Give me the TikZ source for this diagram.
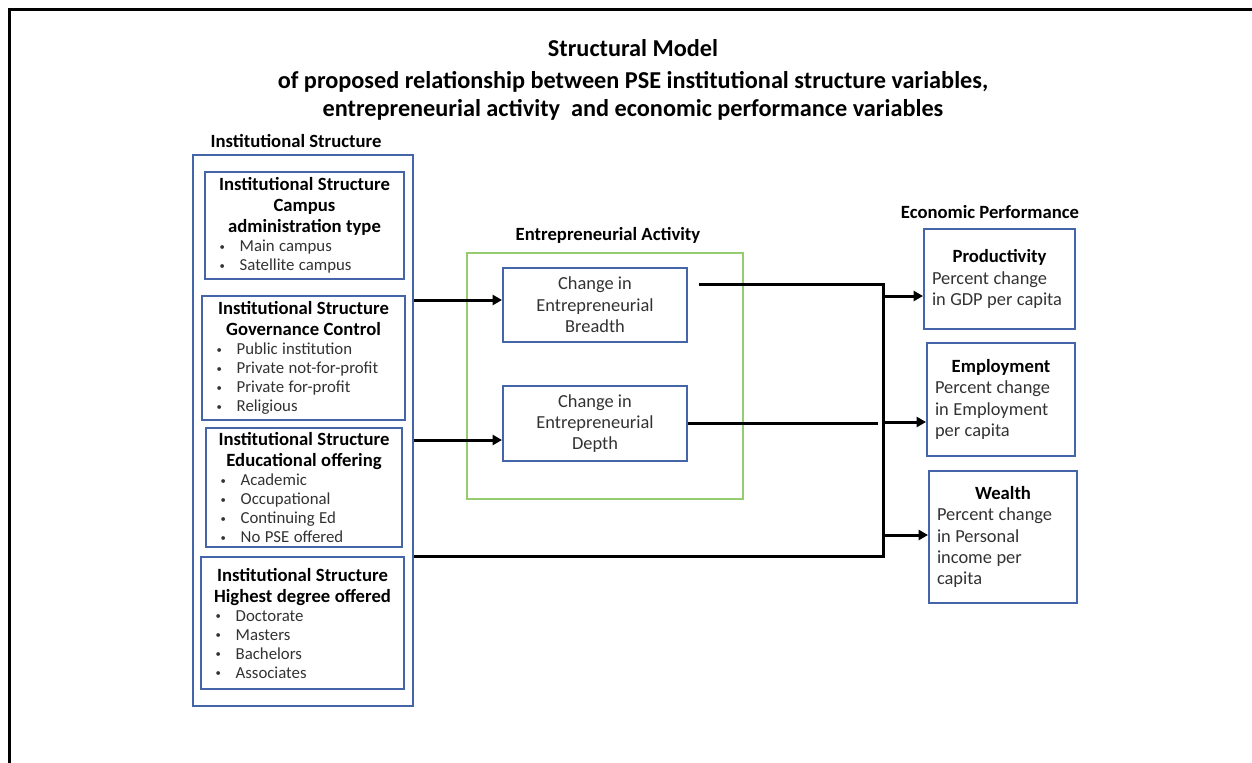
\documentclass[tikz,border=0pt]{standalone}
\usepackage{fontspec}
\setmainfont{Carlito}
\usetikzlibrary{arrows.meta}

\definecolor{boxblue}{RGB}{68,102,168}
\definecolor{actgreen}{RGB}{150,204,112}
\definecolor{txtgray}{RGB}{50,50,50}

\newcommand{\titlefont}{\fontsize{18.2}{21}\selectfont\bfseries}
\newcommand{\headfont}{\fontsize{14}{15.75}\selectfont\bfseries}
\newcommand{\listfont}{\fontsize{12.6}{14.25}\selectfont\mdseries\color{txtgray}}
\newcommand{\bodyfont}{\fontsize{13.8}{16}\selectfont\mdseries\color{txtgray}}
\newcommand{\bitem}{\hspace*{7pt}\makebox[15pt][l]{\raisebox{1pt}{\fontsize{8}{8}\selectfont\textbullet}}}

\begin{document}
\begin{tikzpicture}[x=0.75pt, y=-0.75pt,
    boxsize/.style 2 args={minimum width=#1*0.75pt, minimum height=#2*0.75pt},
    instbox/.style={draw=boxblue, line width=1.5pt, inner xsep=4pt, inner ysep=0pt},
    outbox/.style={draw=boxblue, line width=1.5pt, inner xsep=6pt, inner ysep=0pt},
    actbox/.style={draw=boxblue, line width=1.5pt, align=center, font=\bodyfont},
    grplabel/.style={font=\headfont},
    flowline/.style={line width=2.25pt, line join=miter},
    flowarrow/.style={line width=2.25pt, -{Triangle[length=7pt,width=7.5pt]}}]
    \useasboundingbox (0,0) rectangle (1252,763);

    % Page frame
    \draw[line width=2.25pt] (9,763) -- (9,10) -- (1252,10);

    % Title
    \node[align=center, font=\titlefont] (title) at (633,80)
        {Structural Model\\[3pt]
         of proposed relationship between PSE institutional\ structure variables,\\
         entrepreneurial activity\ \ and economic performance variables};

    % Institutional structure group
    \node[grplabel] (instlabel) at (296,141) {Institutional Structure};
    \node[draw=boxblue, line width=1.2pt, boxsize={220}{551}] (inst) at (303,430.5) {};

    \node[instbox, boxsize={199}{107}, text width=141.25pt] (campus) at (304.5,225.5)
        {\centering\headfont Institutional Structure\\ Campus\\ administration type\par
         \raggedright\listfont\bitem Main campus\\ \bitem Satellite campus\par};
    \node[instbox, boxsize={203}{124}, text width=144.25pt] (govern) at (303.5,358)
        {\centering\headfont Institutional Structure\\ Governance Control\par
         \raggedright\listfont\bitem Public institution\\ \bitem Private not-for-profit\\
         \bitem Private for-profit\\ \bitem Religious\par};
    \node[instbox, boxsize={196}{119}, text width=139pt] (educ) at (304,487.5)
        {\centering\headfont Institutional Structure\\ Educational offering\par
         \raggedright\listfont\bitem Academic\\ \bitem Occupational\\
         \bitem Continuing Ed\\ \bitem No PSE offered\par};
    \node[instbox, boxsize={203}{132}, text width=144.25pt] (highest) at (302.5,623)
        {\centering\headfont Institutional Structure\\ Highest degree offered\par
         \raggedright\listfont\bitem Doctorate\\ \bitem Masters\\
         \bitem Bachelors\\ \bitem Associates\par};

    % Entrepreneurial activity group
    \node[grplabel] (actlabel) at (608,235) {Entrepreneurial Activity};
    \node[draw=actgreen, line width=0.9pt, boxsize={276}{246}] (act) at (605,376) {};
    \node[actbox, boxsize={184}{74}] (breadth) at (595,305) {Change in\\ Entrepreneurial\\ Breadth};
    \node[actbox, boxsize={184}{75}] (depth) at (595,423.5) {Change in\\ Entrepreneurial\\ Depth};

    % Economic performance group
    \node[grplabel] (econlabel) at (990,212) {Economic Performance};
    \node[outbox, boxsize={151}{100}, text width=101.25pt] (prod) at (999.5,279)
        {\centering\headfont Productivity\par
         \raggedright\bodyfont Percent change\\ in GDP per capita\par};
    \node[outbox, boxsize={148}{113}, text width=99pt] (emp) at (1001,399.5)
        {\centering\headfont Employment\par
         \raggedright\bodyfont Percent change\\ in Employment\\ per capita\par};
    \node[outbox, boxsize={148}{132}, text width=99pt] (wealth) at (1003,537)
        {\centering\headfont Wealth\par
         \raggedright\bodyfont Percent change\\ in Personal\\ income per\\ capita\par};

    % Links into entrepreneurial activity
    \coordinate (b in) at ([shift={(0,-5)}]breadth.west);
    \coordinate (d in) at ([shift={(0,16.5)}]depth.west);
    \draw[flowarrow] (inst.east |- b in) -- (b in);
    \draw[flowarrow] (inst.east |- d in) -- (d in);

    % Collecting bus
    \coordinate (bus) at (883,557);
    \coordinate (b out) at ([shift={(11,-21)}]breadth.east);
    \coordinate (d out) at (bus |- depth.east);
    \draw[flowline] (b out) -- (bus |- b out) -- (bus |- highest.north) -- (inst.east |- highest.north);
    \draw[flowline] (depth.east) -- ([shift={(-5,0)}]d out);

    % Links into economic performance
    \coordinate (p in) at ([shift={(0,17)}]prod.west);
    \coordinate (e in) at ([shift={(0,22.5)}]emp.west);
    \coordinate (w in) at ([shift={(0,-2)}]wealth.west);
    \foreach \t in {p in, e in, w in}
        \draw[flowarrow] (bus |- \t) -- (\t);
\end{tikzpicture}
\end{document}
